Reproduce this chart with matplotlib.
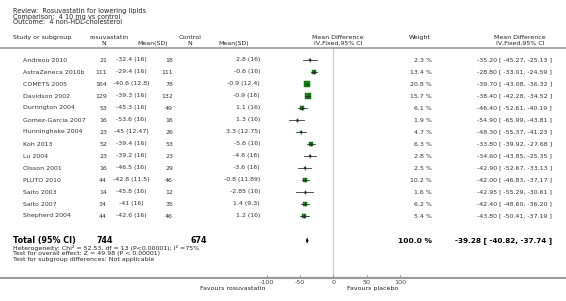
import matplotlib
matplotlib.use("Agg")
import matplotlib.pyplot as plt
import matplotlib.transforms as mtransforms
from matplotlib.lines import Line2D
import numpy as np

# ---------------- data ----------------
studies = ["Andreou 2010", "AstraZeneca 2010b", "COMETS 2005", "Davidson 2002",
           "Durrington 2004", "Gomez-Garcia 2007", "Hunninghake 2004", "Koh 2013",
           "Lu 2004", "Olsson 2001", "PLUTO 2010", "Saito 2003", "Saito 2007",
           "Shepherd 2004"]
n_rosu = [21, 111, 164, 129, 53, 16, 23, 52, 23, 16, 44, 14, 34, 44]
msd_rosu = ["-32.4 (16)", "-29.4 (16)", "-40.6 (12.8)", "-39.3 (16)", "-45.3 (16)",
            "-53.6 (16)", "-45 (12.47)", "-39.4 (16)", "-39.2 (16)", "-46.5 (16)",
            "-42.8 (11.5)", "-45.8 (16)", "-41 (16)", "-42.6 (16)"]
n_ctrl = [18, 111, 78, 132, 49, 16, 26, 53, 23, 29, 46, 12, 35, 46]
msd_ctrl = ["2.8 (16)", "-0.6 (16)", "-0.9 (12.4)", "-0.9 (16)", "1.1 (16)",
            "1.3 (16)", "3.3 (12.75)", "-5.6 (16)", "-4.6 (16)", "-3.6 (16)",
            "-0.8 (11.89)", "-2.85 (16)", "1.4 (9.3)", "1.2 (16)"]
weights = [2.3, 13.4, 20.8, 15.7, 6.1, 1.9, 4.7, 6.3, 2.8, 2.5, 10.2, 1.6, 6.2, 5.4]
md = [-35.20, -28.80, -39.70, -38.40, -46.40, -54.90, -48.30, -33.80, -34.60,
      -42.90, -42.00, -42.95, -42.40, -43.80]
ci_lo = [-45.27, -33.01, -43.08, -42.28, -52.61, -65.99, -55.37, -39.92, -43.85,
         -52.67, -46.83, -55.29, -48.60, -50.41]
ci_hi = [-25.13, -24.59, -36.32, -34.52, -40.19, -43.81, -41.23, -27.68, -25.35,
         -33.13, -37.17, -30.61, -36.20, -37.19]
total_n_rosu = 744
total_n_ctrl = 674
total_md, total_lo, total_hi = -39.28, -40.82, -37.74
xticks = [-100, -50, 0, 50, 100]

W, H = 566, 301
fig = plt.figure(figsize=(W / 100, H / 100), dpi=100)
fig.patch.set_facecolor("white")

def fx(x):
    return x / W

def fy(y):
    return 1 - y / H

# forest axes: -100 -> 266.7 px, 100 -> 400 px ; y from 48 px to 278 px
ax_left, ax_right = 266.7, 400.0
ax_top, ax_bot = 48.0, 278.0
ax = fig.add_axes([fx(ax_left), fy(ax_bot), (ax_right - ax_left) / W, (ax_bot - ax_top) / H])
ax.set_xlim(-100, 100)
ax.set_ylim((ax_bot - 60) / 12.0, (ax_top - 60) / 12.0)
ax.patch.set_alpha(0)
for s in ["top", "left", "right"]:
    ax.spines[s].set_visible(False)
ax.spines["bottom"].set_color("#9a9a9a")
ax.spines["bottom"].set_linewidth(1.5)
ax.set_yticks([])
ax.set_xticks(xticks)
ax.set_xticklabels([str(t) for t in xticks])
ax.tick_params(axis="x", direction="in", length=2.5, width=0.6, color="#777777",
               labelsize=4.6, labelcolor="#444444", pad=1.5)
ax.axvline(0, color="#c8c8c8", lw=0.8, zorder=0)

txtc = "#333333"
fs = 4.5
rows = np.arange(len(studies))
for i in rows:
    ax.plot([ci_lo[i], ci_hi[i]], [i, i], color="#222222", lw=0.55, zorder=3)
    side = 0.95 * np.sqrt(weights[i])
    ax.plot(md[i], i, marker="s", ms=side, color="#0e8a0e", mec="#0a5a0a",
            mew=0.3, zorder=2)
    ax.plot(md[i], i, marker="|", ms=2.2, color="#222222", mew=0.5, zorder=4)

tot_y = 15.05
ax.fill([total_lo, total_md, total_hi, total_md],
        [tot_y, tot_y - 0.2, tot_y, tot_y + 0.2], color="black", lw=0.4,
        edgecolor="black", zorder=3)

# full-width lines
fig.add_artist(Line2D([0, 1], [fy(48), fy(48)], color="#9a9a9a", lw=1.2,
                      transform=fig.transFigure))
fig.add_artist(Line2D([0, 1], [fy(ax_bot), fy(ax_bot)], color="#9a9a9a", lw=1.5,
                      transform=fig.transFigure))

# row texts
tr = mtransforms.blended_transform_factory(fig.transFigure, ax.transData)
for i in rows:
    fig.text(fx(23), i, studies[i], transform=tr, fontsize=fs, color=txtc,
             ha="left", va="center")
    fig.text(fx(107), i, str(n_rosu[i]), transform=tr, fontsize=fs, color=txtc,
             ha="right", va="center")
    fig.text(fx(131), i, msd_rosu[i], transform=tr, fontsize=fs, color=txtc,
             ha="center", va="center")
    fig.text(fx(173), i, str(n_ctrl[i]), transform=tr, fontsize=fs, color=txtc,
             ha="right", va="center")
    fig.text(fx(260), i, msd_ctrl[i], transform=tr, fontsize=fs, color=txtc,
             ha="right", va="center")
    fig.text(fx(432), i, f"{weights[i]:.1f} %", transform=tr, fontsize=fs,
             color=txtc, ha="right", va="center")
    fig.text(fx(552), i, f"{md[i]:.2f} [ {ci_lo[i]:.2f}, {ci_hi[i]:.2f} ]",
             transform=tr, fontsize=fs, color=txtc, ha="right", va="center")

# total row
fig.text(fx(13), tot_y, "Total (95% CI)", transform=tr, fontsize=5.8,
         fontweight="bold", color="black", ha="left", va="center")
fig.text(fx(113), tot_y, str(total_n_rosu), transform=tr, fontsize=5.8,
         fontweight="bold", color="black", ha="right", va="center")
fig.text(fx(207), tot_y, str(total_n_ctrl), transform=tr, fontsize=5.8,
         fontweight="bold", color="black", ha="right", va="center")
fig.text(fx(432), tot_y, "100.0 %", transform=tr, fontsize=5.4,
         fontweight="bold", color="black", ha="right", va="center")
fig.text(fx(552), tot_y, f"{total_md:.2f} [ {total_lo:.2f}, {total_hi:.2f} ]",
         transform=tr, fontsize=5.2, fontweight="bold", color="black",
         ha="right", va="center")

small = 4.5
fig.text(fx(13), fy(248.3), "Heterogeneity: Chi\u00b2 = 52.53, df = 13 (P<0.00001); I\u00b2 =75%",
         fontsize=small, color="#222222", ha="left", va="center")
fig.text(fx(13), fy(253.8), "Test for overall effect: Z = 49.98 (P < 0.00001)",
         fontsize=small, color="#222222", ha="left", va="center")
fig.text(fx(13), fy(259.3), "Test for subgroup differences: Not applicable",
         fontsize=small, color="#222222", ha="left", va="center")

# header
hc = "#222222"
tsz = 4.7
fig.text(fx(13), fy(11.5), "Review:  Rosuvastatin for lowering lipids", fontsize=tsz,
         color=hc, ha="left", va="center")
fig.text(fx(13), fy(16.6), "Comparison:  4 10 mg vs control", fontsize=tsz,
         color=hc, ha="left", va="center")
fig.text(fx(13), fy(21.8), "Outcome:  4 non-HDL-cholesterol", fontsize=tsz,
         color=hc, ha="left", va="center")
fig.text(fx(13), fy(37.7), "Study or subgroup", fontsize=fs, color=hc, ha="left", va="center")
fig.text(fx(109), fy(37.7), "rosuvastatin", fontsize=fs, color=hc, ha="center", va="center")
fig.text(fx(104), fy(43.3), "N", fontsize=fs, color=hc, ha="center", va="center")
fig.text(fx(153), fy(43.3), "Mean(SD)", fontsize=fs, color=hc, ha="center", va="center")
fig.text(fx(190), fy(37.7), "Control", fontsize=fs, color=hc, ha="center", va="center")
fig.text(fx(190), fy(43.3), "N", fontsize=fs, color=hc, ha="center", va="center")
fig.text(fx(234), fy(43.3), "Mean(SD)", fontsize=fs, color=hc, ha="center", va="center")
fig.text(fx(338), fy(37.7), "Mean Difference", fontsize=fs, color=hc, ha="center", va="center")
fig.text(fx(338), fy(43.3), "IV,Fixed,95% CI", fontsize=fs, color=hc, ha="center", va="center")
fig.text(fx(420), fy(37.7), "Weight", fontsize=fs, color=hc, ha="center", va="center")
fig.text(fx(520), fy(37.7), "Mean Difference", fontsize=fs, color=hc, ha="center", va="center")
fig.text(fx(520), fy(43.3), "IV,Fixed,95% CI", fontsize=fs, color=hc, ha="center", va="center")

fig.text(fx(265), fy(288.5), "Favours rosuvastatin", fontsize=fs, color=hc,
         ha="right", va="center")
fig.text(fx(373), fy(288.5), "Favours placebo", fontsize=fs, color=hc,
         ha="center", va="center")

fig.savefig("out.png", dpi=100, facecolor="white")
